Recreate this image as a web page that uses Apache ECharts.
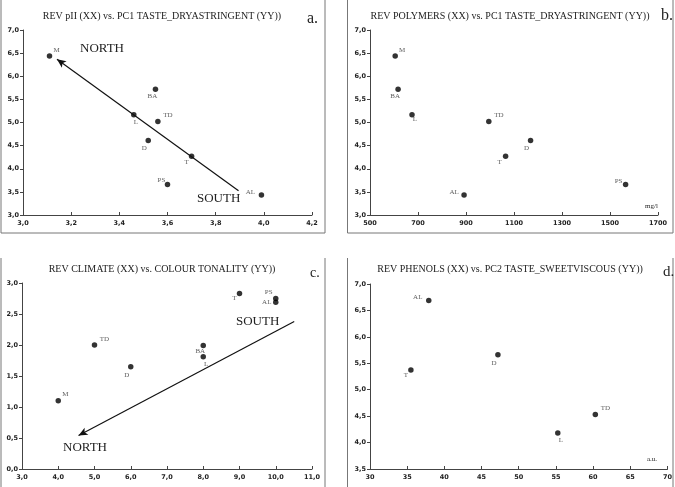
<!DOCTYPE html>
<html>
<head>
<meta charset="utf-8">
<script src="https://cdn.jsdelivr.net/npm/echarts@6/dist/echarts.min.js"></script>
<style>
  html, body { margin: 0; padding: 0; background: #fff; }
  #chart { width: 675px; height: 487px; }
</style>
</head>
<body>
<div id="chart"></div>
<script>
// panel a / b : PC1 taste dry-astringent
var namesAB = ['M', 'BA', 'L', 'TD', 'D', 'T', 'PS', 'AL'];
var phA = [3.11, 3.55, 3.46, 3.56, 3.52, 3.70, 3.60, 3.99];
var polymersB = [605, 617, 675, 995, 1169, 1065, 1565, 892];
var pc1Dry = [6.44, 5.72, 5.17, 5.02, 4.61, 4.27, 3.66, 3.43];
// panel c : climate vs colour tonality
var namesC = ['M', 'TD', 'D', 'BA', 'L', 'T', 'PS', 'AL'];
var climateC = [4, 5, 6, 8, 8, 9, 10, 10];
var tonalityC = [1.10, 2.00, 1.65, 1.99, 1.81, 2.83, 2.75, 2.69];
// panel d : phenols vs PC2 sweet-viscous
var namesD = ['AL', 'T', 'D', 'L', 'TD'];
var phenolsD = [37.9, 35.5, 47.2, 55.25, 60.3];
var pc2Sweet = [6.69, 5.375, 5.66, 4.18, 4.53];
// arrows (north/south trend)
var arrowA = [[3.895, 3.525], [3.141, 6.366]];
var arrowC = [[10.51, 2.38], [4.56, 0.54]];

// label offsets (px) from each dot
var offA = {M:[7,-6], BA:[-3,7], L:[2,8], TD:[10,-6], D:[-4,8], T:[-5,6], PS:[-6,-4], AL:[-11,-3]};
var offB = {M:[7,-6], BA:[-3,7], L:[3,5], TD:[10,-6], D:[-4,8], T:[-6,6], PS:[-7,-3], AL:[-10,-3]};
var offC = {M:[7,-7], TD:[10,-6], D:[-4,8], BA:[-3,6], L:[3,7], T:[-5,5], PS:[-7,-6], AL:[-9,0]};
var offD = {AL:[-11,-3], T:[-5,5], D:[-4,8], L:[3,7], TD:[10,-6]};

var SERIF = '"Liberation Serif", "DejaVu Serif", serif';
var SANS = '"DejaVu Sans", sans-serif';
var chart = echarts.init(document.getElementById('chart'));

function comma(d) {
    return function (v) { return d ? v.toFixed(d).replace('.', ',') : String(v); };
}
function xAx(i, min, max, step, d) {
    return {
        gridIndex: i, type: 'value', min: min, max: max, interval: step,
        axisLine: {lineStyle: {color: '#444', width: 1}},
        axisTick: {inside: true, length: 3, lineStyle: {color: '#444'}},
        axisLabel: {formatter: comma(d), color: '#222', fontSize: 6.5, fontWeight: 'bold', fontFamily: SANS, margin: 5},
        splitLine: {show: false}
    };
}
function yAx(i, min, max, step) {
    return {
        gridIndex: i, type: 'value', min: min, max: max, interval: step,
        axisLine: {show: true, lineStyle: {color: '#444', width: 1}},
        axisTick: {show: true, length: 3, lineStyle: {color: '#444'}},
        axisLabel: {formatter: comma(1), color: '#222', fontSize: 6.5, fontWeight: 'bold', fontFamily: SANS, margin: 4},
        splitLine: {show: false}
    };
}
function pts(i, names, xs, ys, off, arrow) {
    var s = {
        type: 'scatter', xAxisIndex: i, yAxisIndex: i, symbolSize: 5.5,
        itemStyle: {color: '#000'},
        label: {show: true, position: 'inside', formatter: '{b}', fontFamily: SERIF, fontSize: 7, color: '#333'},
        data: names.map(function (n, k) {
            return {name: n, value: [xs[k], ys[k]], label: {offset: off[n]}};
        })
    };
    if (arrow) {
        s.markLine = {
            silent: true, symbol: ['none', 'arrow'], symbolSize: [6, 9],
            lineStyle: {color: '#111', width: 1.2, type: 'solid'},
            label: {show: false},
            data: [[{coord: arrow[0]}, {coord: arrow[1]}]]
        };
    }
    return s;
}
function txt(x, y, s, size, align) {
    return {type: 'text', x: x, y: y,
        style: {text: s, font: size + 'px ' + SERIF, fill: '#222', textAlign: align || 'left', textVerticalAlign: 'middle'}};
}
function frame(p) {
    return {type: 'polyline', shape: {points: p}, style: {stroke: '#777', lineWidth: 1, fill: null}};
}

chart.setOption({
    animation: false,
    grid: [
        {left: 23, top: 30, width: 289, height: 185},
        {left: 370, top: 30, width: 288, height: 185},
        {left: 22, top: 283, width: 290, height: 186},
        {left: 370, top: 284, width: 298, height: 185}
    ],
    xAxis: [
        xAx(0, 3.0, 4.2, 0.2, 1),
        xAx(1, 500, 1700, 200, 0),
        xAx(2, 3.0, 11.0, 1.0, 1),
        xAx(3, 30, 70, 5, 0)
    ],
    yAxis: [
        yAx(0, 3.0, 7.0, 0.5),
        yAx(1, 3.0, 7.0, 0.5),
        yAx(2, 0.0, 3.0, 0.5),
        yAx(3, 3.5, 7.0, 0.5)
    ],
    series: [
        pts(0, namesAB, phA, pc1Dry, offA, arrowA),
        pts(1, namesAB, polymersB, pc1Dry, offB),
        pts(2, namesC, climateC, tonalityC, offC, arrowC),
        pts(3, namesD, phenolsD, pc2Sweet, offD)
    ],
    graphic: [
        frame([[1, 0], [1, 233], [325, 233], [325, 0]]),
        frame([[347.5, 0], [347.5, 233], [673, 233], [673, 0]]),
        frame([[1, 258], [1, 487]]),
        frame([[325, 258], [325, 487]]),
        frame([[347.5, 258], [347.5, 487]]),
        frame([[673, 258], [673, 487]]),
        txt(162, 16, 'REV pII (XX) vs. PC1 TASTE_DRYASTRINGENT (YY))', 10, 'center'),
        txt(510, 16, 'REV POLYMERS (XX) vs. PC1 TASTE_DRYASTRINGENT (YY))', 10, 'center'),
        txt(162, 269, 'REV CLIMATE (XX) vs. COLOUR TONALITY (YY))', 10, 'center'),
        txt(510, 269, 'REV PHENOLS (XX) vs. PC2 TASTE_SWEETVISCOUS (YY))', 10, 'center'),
        txt(307, 19, 'a.', 16),
        txt(661, 16, 'b.', 16),
        txt(310, 273, 'c.', 14),
        txt(663, 272, 'd.', 15),
        txt(80, 49, 'NORTH', 13),
        txt(197, 199, 'SOUTH', 13),
        txt(236, 322, 'SOUTH', 13),
        txt(63, 448, 'NORTH', 13),
        txt(645, 206, 'mg/l', 7),
        txt(647, 459, 'a.u.', 7)
    ]
});
</script>
</body>
</html>
